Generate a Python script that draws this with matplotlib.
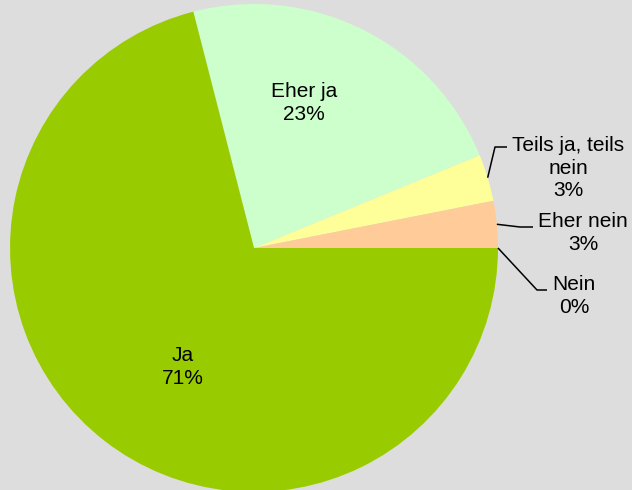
import numpy as np
import matplotlib
matplotlib.use("Agg")
import matplotlib.pyplot as plt

plt.rcParams['font.family'] = ['Liberation Sans', 'DejaVu Sans']

# answers, in clockwise order starting at the top
labels = ['Eher ja', 'Teils ja, teils\nnein', 'Eher nein', 'Nein', 'Ja']
values = [22.8, 3.1, 3.1, 0.0, 71.0]
colors = ['#CCFFCC', '#FFFF99', '#FFCC99', '#FFFFFF', '#99CC00']

fig = plt.figure(figsize=(6.32, 4.90), dpi=100, facecolor='#DDDDDD')
ax = fig.add_axes([0, 0, 1, 1])
ax.set_facecolor('#DDDDDD')

cx, cy, r = 254, 242, 244
start = 360 * sum(values[:4]) / sum(values)
wedges, _ = ax.pie(values, colors=colors, startangle=start, counterclock=False,
                   center=(cx, cy), radius=r, frame=True,
                   wedgeprops=dict(linewidth=0))
ax.set_xlim(0, 632)
ax.set_ylim(0, 490)
ax.set_aspect('equal')
ax.axis('off')

pct = [f"{v:.0f}%" for v in values]
fs = 15
ls = 1.22

# inside labels
inside = {0: (304, 387), 4: (183, 123)}
for i, (x, y) in inside.items():
    ax.text(x, y, labels[i] + '\n' + pct[i], ha='center', va='center',
            fontsize=fs, linespacing=ls)

# outside labels with leader lines: (elbow, end of line, text position)
outside = {
    1: ((495, 343), (507, 343), (568, 322)),
    2: ((520, 263), (533, 263), (583, 257)),
    3: ((537, 200), (547, 200), (574, 194)),
}
for i, (elbow, end, tpos) in outside.items():
    w = wedges[i]
    mid = np.deg2rad((w.theta1 + w.theta2) / 2)
    p0 = (cx + r * np.cos(mid), cy + r * np.sin(mid))
    ax.plot([p0[0], elbow[0], end[0]], [p0[1], elbow[1], end[1]],
            color='black', lw=1.1, solid_capstyle='butt')
    ax.text(tpos[0], tpos[1], labels[i] + '\n' + pct[i], ha='center', va='center',
            fontsize=fs, linespacing=ls)

fig.savefig('out.png', dpi=100, facecolor='#DDDDDD')
